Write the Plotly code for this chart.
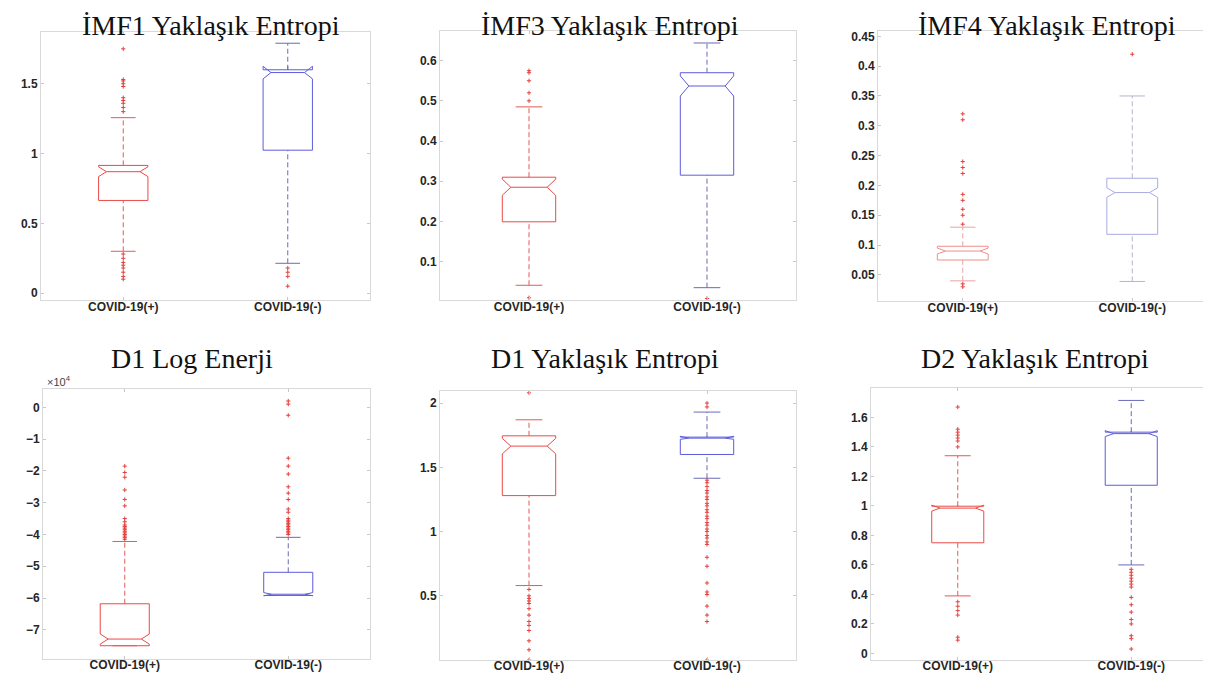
import plotly.graph_objects as go

# ---------------- data ----------------
groups = ["COVID-19(+)", "COVID-19(-)"]
titles = ["İMF1 Yaklaşık Entropi", "İMF3 Yaklaşık Entropi", "İMF4 Yaklaşık Entropi",
          "D1 Log Enerji", "D1 Yaklaşık Entropi", "D2 Yaklaşık Entropi"]

q1 = [[0.664, 1.024], [0.199, 0.315], [0.075, 0.118], [-7.50, -5.92], [1.28, 1.60], [0.75, 1.14]]
median = [[0.870, 1.580], [0.285, 0.537], [0.090, 0.188], [-7.29, -5.88], [1.665, 1.730], [0.985, 1.490]]
q3 = [[0.915, 1.600], [0.310, 0.570], [0.098, 0.212], [-6.18, -5.19], [1.745, 1.735], [0.998, 1.500]]
notch = [[0.035, 0.045], [0.020, 0.025], [0.005, 0.008], [0.16, 0.05], [0.06, 0.012], [0.02, 0.020]]
lower_whisker = [[0.300, 0.214], [0.041, 0.035], [0.040, 0.039], [-7.50, -5.92], [0.58, 1.415], [0.39, 0.60]]
upper_whisker = [[1.257, 1.790], [0.485, 0.644], [0.130, 0.350], [-4.22, -4.09], [1.87, 1.93], [1.34, 1.715]]

outliers_pos = [
    [1.75, 1.53, 1.52, 1.50, 1.48, 1.40, 1.38, 1.36, 1.33, 1.30, 0.28, 0.25, 0.22, 0.20, 0.18, 0.15, 0.12, 0.10],
    [0.575, 0.57, 0.55, 0.52, 0.50, 0.01],
    [0.32, 0.31, 0.24, 0.23, 0.22, 0.185, 0.175, 0.16, 0.15, 0.135, 0.035, 0.03],
    [-1.85, -2.05, -2.2, -2.6, -2.9, -3.1, -3.5, -3.6, -3.7, -3.75, -3.8, -3.85, -3.9, -3.95, -4.0, -4.05, -4.1, -4.15],
    [2.08, 0.55, 0.50, 0.48, 0.46, 0.44, 0.40, 0.35, 0.30, 0.27, 0.23, 0.15, 0.08, 0.0],
    [1.67, 1.52, 1.50, 1.48, 1.46, 1.44, 1.40, 0.35, 0.32, 0.29, 0.26, 0.11, 0.09],
]
outliers_neg = [
    [0.18, 0.15, 0.12, 0.05],
    [0.008],
    [0.42],
    [0.2, 0.1, -0.25, -1.6, -1.85, -2.1, -2.5, -2.7, -2.9, -3.2, -3.3, -3.5, -3.55, -3.6, -3.65, -3.7,
     -3.75, -3.8, -3.85, -3.9, -3.95, -4.0],
    [2.0, 1.97, 1.40, 1.38, 1.35, 1.32, 1.30, 1.27, 1.25, 1.22, 1.20, 1.17, 1.15, 1.12, 1.10, 1.07, 1.05,
     1.02, 1.0, 0.97, 0.95, 0.92, 0.90, 0.80, 0.73, 0.60, 0.53, 0.51, 0.42, 0.35, 0.30, 0.0],
    [0.57, 0.55, 0.53, 0.51, 0.49, 0.47, 0.45, 0.38, 0.33, 0.28, 0.23, 0.20, 0.12, 0.10, 0.03],
]

y_ranges = [[-0.05, 1.871], [0.004, 0.674], [0.006, 0.459], [-7.92, 0.58], [0.0, 2.095], [-0.045, 1.80]]
y_ticks = [[0, 0.5, 1, 1.5],
           [0.1, 0.2, 0.3, 0.4, 0.5, 0.6],
           [0.05, 0.1, 0.15, 0.2, 0.25, 0.3, 0.35, 0.4, 0.45],
           [-7, -6, -5, -4, -3, -2, -1, 0],
           [0.5, 1, 1.5, 2],
           [0, 0.2, 0.4, 0.6, 0.8, 1, 1.2, 1.4, 1.6]]

# ---------------- layout / style ----------------
W, H = 1211, 680
panel_px = [(33, 362, 23, 292), (432, 788, 22, 292), (870, 1209, 22, 293),
            (35, 362, 381, 652), (432, 788, 383, 653), (863, 1210, 380, 653)]
title_px = [(203, 17), (602, 17), (1039, 17), (184, 351), (597, 351), (1027, 351)]
positions = [1, 2]
box_width = 0.3
cap_half = 0.075
box_colors = [["#ea4a46", "#5c5cdc"], ["#ea4a46", "#5c5cdc"], ["#f08e8b", "#a9a9e4"],
              ["#ea4a46", "#5c5cdc"], ["#ea4a46", "#5c5cdc"], ["#ea4a46", "#5c5cdc"]]
whisker_colors = [["#e45a56", "#6a6ab8"], ["#e45a56", "#6a6ab8"], ["#eaa3a0", "#b4b4cc"],
                  ["#e45a56", "#6a6ab8"], ["#e45a56", "#6a6ab8"], ["#e45a56", "#6a6ab8"]]
outlier_color = "#e2403c"
frame_color = "#d9d9d9"
tick_font = dict(family="Liberation Sans, Arial", size=12, color="#262626", weight="bold")

fig = go.Figure()
annotations = []

for i in range(6):
    sfx = "" if i == 0 else str(i + 1)
    xref, yref = "x" + sfx, "y" + sfx
    for g in range(2):
        pos = positions[g]
        c = box_colors[i][g]
        fig.add_trace(go.Box(
            x=[pos], q1=[q1[i][g]], median=[median[i][g]], q3=[q3[i][g]],
            lowerfence=[q1[i][g]], upperfence=[q3[i][g]], notchspan=[notch[i][g]],
            notched=True, notchwidth=0.16, width=box_width, whiskerwidth=0,
            boxpoints=False, fillcolor="rgba(0,0,0,0)", line=dict(color=c, width=1),
            xaxis=xref, yaxis=yref, showlegend=False, hoverinfo="skip"))
        wc = whisker_colors[i][g]
        # dashed whiskers
        fig.add_trace(go.Scatter(
            x=[pos, pos, None, pos, pos],
            y=[q3[i][g], upper_whisker[i][g], None, lower_whisker[i][g], q1[i][g]],
            mode="lines", line=dict(color=wc, width=1, dash="5px,3px"),
            xaxis=xref, yaxis=yref, showlegend=False, hoverinfo="skip"))
        # whisker caps
        fig.add_trace(go.Scatter(
            x=[pos - cap_half, pos + cap_half, None, pos - cap_half, pos + cap_half],
            y=[upper_whisker[i][g], upper_whisker[i][g], None, lower_whisker[i][g], lower_whisker[i][g]],
            mode="lines", line=dict(color=wc, width=1),
            xaxis=xref, yaxis=yref, showlegend=False, hoverinfo="skip"))
        outs = outliers_pos[i] if g == 0 else outliers_neg[i]
        fig.add_trace(go.Scatter(
            x=[pos] * len(outs), y=outs, mode="markers",
            marker=dict(symbol="cross-thin", size=3, line=dict(color=outlier_color, width=1)),
            xaxis=xref, yaxis=yref, showlegend=False, hoverinfo="skip"))

    x0, x1, y0, y1 = panel_px[i]
    common = dict(showline=True, linecolor=frame_color, linewidth=1, mirror="ticks",
                  ticks="inside", ticklen=3, tickcolor="#c8c8c8", showgrid=False,
                  zeroline=False, tickfont=tick_font)
    fig.update_layout(**{
        "xaxis" + sfx: dict(domain=[x0 / W, x1 / W], range=[0.5, 2.5], anchor=yref,
                            tickvals=positions, ticktext=groups, ticklabelstandoff=-5, **common),
        "yaxis" + sfx: dict(domain=[1 - y1 / H, 1 - y0 / H], range=y_ranges[i], anchor=xref,
                            tickvals=y_ticks[i], **common),
    })
    tx, ty = title_px[i]
    annotations.append(dict(text=titles[i], x=tx / W, y=1 - ty / H, xref="paper", yref="paper",
                            xanchor="center", yanchor="middle", showarrow=False,
                            font=dict(family="Liberation Serif, Times New Roman", size=28, color="#111")))

annotations.append(dict(text="×10<sup>4</sup>", x=37 / W, y=1 - 373 / H, xref="paper", yref="paper",
                        xanchor="left", yanchor="middle", showarrow=False,
                        font=dict(family="Liberation Sans, Arial", size=11, color="#444")))

fig.update_layout(width=W, height=H, margin=dict(l=0, r=0, t=0, b=0),
                  paper_bgcolor="white", plot_bgcolor="white", annotations=annotations)

fig.write_html("out.html")
